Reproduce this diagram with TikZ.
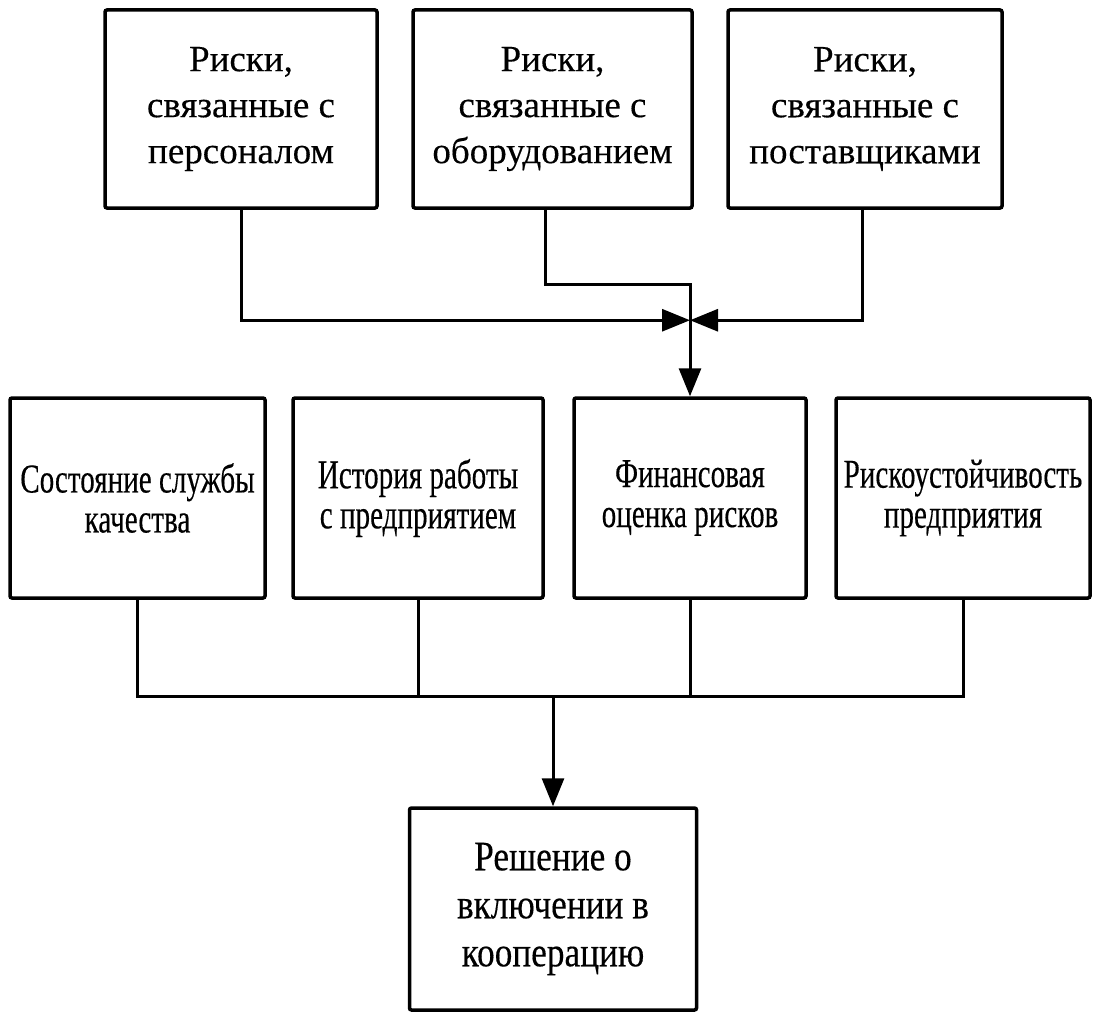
\documentclass[tikz,border=0pt]{standalone}
\usepackage{fontspec}
\usetikzlibrary{arrows.meta,calc}
\newfontfamily\topfont{Liberation Serif}[FakeBold=0.3]
\newfontfamily\midfont{Liberation Serif}[FakeStretch=0.71,FakeBold=0.3]
\newfontfamily\decfont{Liberation Serif}[FakeStretch=0.84,FakeBold=0.3]
\begin{document}
\begin{tikzpicture}[x=1pt,y=-1pt,
  box/.style={draw=black,line width=3.5pt,rounded corners=2pt,fill=white,
    inner sep=0pt,align=center,anchor=center},
  topbox/.style={box,minimum height=198pt,font=\topfont\fontsize{37}{46}\selectfont},
  midbox/.style={box,minimum height=200pt,font=\midfont\fontsize{41}{40}\selectfont},
  decbox/.style={box,font=\decfont\fontsize{42}{48}\selectfont},
  conn/.style={line width=3pt,line join=miter},
  arr/.style={conn,-{Triangle[length=28pt,width=22pt]}}]
\useasboundingbox (0,0) rectangle (1101,1014);

% risk sources
\node[topbox,minimum width=272pt] (r1) at (241,109) {Риски,\\связанные с\\персоналом};
\node[topbox,minimum width=279pt] (r2) at (552.5,109) {Риски,\\связанные с\\оборудованием};
\node[topbox,minimum width=274pt] (r3) at (865,109) {Риски,\\связанные с\\поставщиками};

% assessment criteria
\node[midbox,minimum width=255pt] (m1) at (137.5,498) {Состояние службы\\качества};
\node[midbox,minimum width=250pt] (m2) at (418,498) {История работы\\с предприятием};
\node[midbox,minimum width=232pt] (m3) at (690,498) {Финансовая\\оценка рисков};
\node[midbox,minimum width=254pt] (m4) at (963,498) {Рискоустойчивость\\предприятия};

% decision
\node[decbox,minimum width=287pt,minimum height=202pt] (dec) at (553,909) {Решение о\\включении в\\кооперацию};

% merging the risk sources
\coordinate (j) at ($(m3.north)+(0,-76)$);
\draw[arr] ([xshift=-7pt]r2.south) -- ++(0,75) -| (m3.north);
\draw[arr] (r1.south) |- (j);
\draw[arr] ([xshift=-3pt]r3.south) |- (j);

% collecting the criteria
\coordinate (bl) at ($(m1.south)+(0,97)$);
\draw[conn] (m1.south) -- (bl) -- (bl -| m4.south) -- (m4.south);
\draw[conn] (m2.south) -- (m2.south |- bl);
\draw[conn] (m3.south) -- (m3.south |- bl);
\draw[arr] (dec.north |- bl) -- (dec.north);
\end{tikzpicture}
\end{document}
